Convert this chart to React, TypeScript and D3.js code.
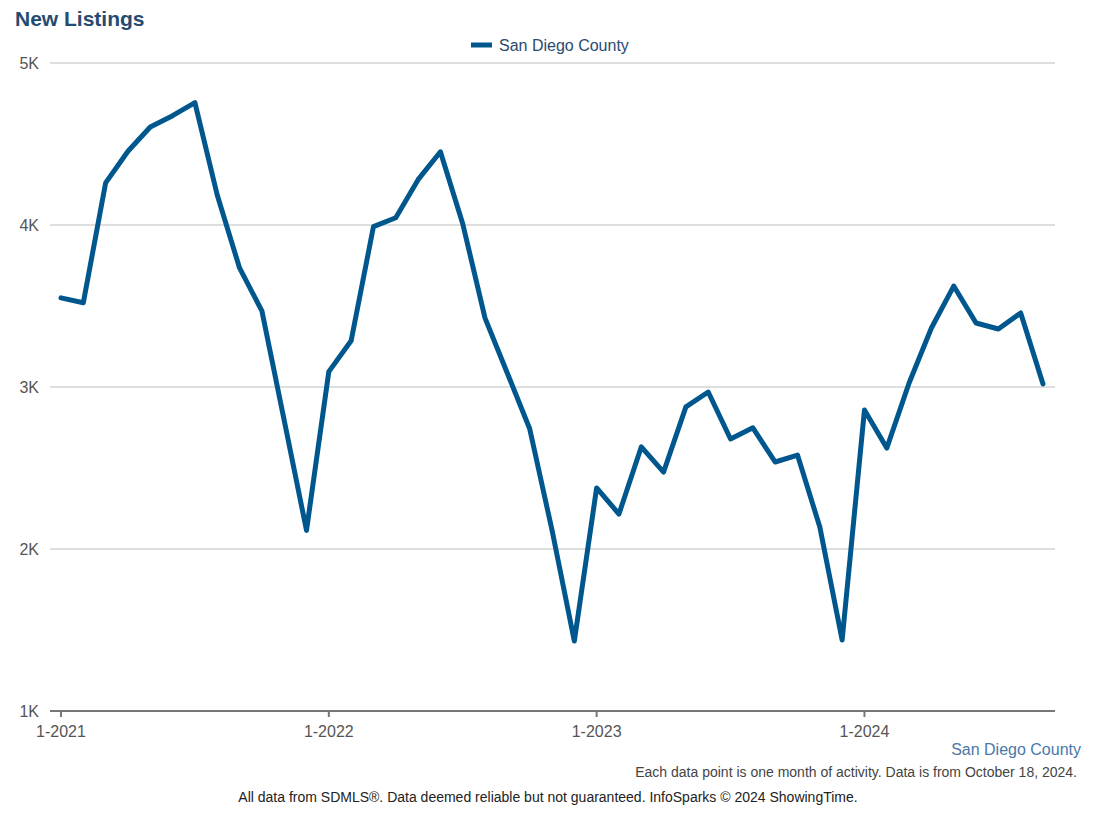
import React from "react";
import * as d3 from "d3";

const months: string[] = [];
for (let y = 2021; y <= 2024; y++) for (let m = 1; m <= 12; m++) months.push(`${m}-${y}`);
const periods = months.slice(0, 45);

const newListings = [
  3550, 3520, 4260, 4455, 4605, 4675, 4755, 4185, 3735, 3470, 2795, 2115,
  3095, 3285, 3990, 4045, 4280, 4452, 4008, 3425, 3085, 2742, 2117, 1432,
  2377, 2216, 2630, 2475, 2877, 2969, 2679, 2748, 2537, 2580, 2136, 1438,
  2858, 2623, 3025, 3364, 3623, 3395, 3358, 3457, 3019,
];

const yTicks = [1000, 2000, 3000, 4000, 5000];
const xTickLabels = ["1-2021", "1-2022", "1-2023", "1-2024"];

const W = 1098;
const H = 816;
const FONT = "'Liberation Sans', Arial, Helvetica, sans-serif";

export default function App() {
  const x = d3.scaleLinear().domain([0, 44]).range([61, 1043]);
  const y = d3.scaleLinear().domain([1000, 5000]).range([711, 63]);
  const line = d3
    .line<number>()
    .x((_, i) => x(i))
    .y((d) => y(d));
  const path = line(newListings) || "";
  const fmt = (v: number) => `${v / 1000}K`;

  return (
    <svg
      width={W}
      height={H}
      style={{ position: "absolute", left: 0, top: 0, fontFamily: FONT }}
    >
      <rect width={W} height={H} fill="#fff" />
      <text x={15} y={26} fontSize={21} fontWeight="bold" fill="#264a70">
        New Listings
      </text>
      {/* legend */}
      <line x1={471} x2={492} y1={45} y2={45} stroke="#00578e" strokeWidth={5} />
      <text x={499} y={51} fontSize={16} fill="#2b4a6e">
        San Diego County
      </text>
      {/* grid */}
      {yTicks.map((t) => (
        <g key={t}>
          {t > 1000 && (
            <line x1={50} x2={1055} y1={y(t)} y2={y(t)} stroke="#bdbdbd" strokeWidth={1.2} />
          )}
          <text x={39} y={y(t) + 5.5} fontSize={16} fill="#555" textAnchor="end">
            {fmt(t)}
          </text>
        </g>
      ))}
      {/* x axis */}
      <line x1={50} x2={1055} y1={y(1000)} y2={y(1000)} stroke="#777" strokeWidth={2} />
      {xTickLabels.map((lab) => {
        const i = periods.indexOf(lab);
        return (
          <g key={lab}>
            <line x1={x(i)} x2={x(i)} y1={711} y2={717} stroke="#777" strokeWidth={2} />
            <text x={x(i)} y={737} fontSize={16} fill="#555" textAnchor="middle">
              {lab}
            </text>
          </g>
        );
      })}
      <path
        d={path}
        fill="none"
        stroke="#00578e"
        strokeWidth={5}
        strokeLinejoin="round"
        strokeLinecap="round"
      />
      <text x={1081} y={755} fontSize={16} fill="#4a78a8" textAnchor="end">
        San Diego County
      </text>
      <text x={1077} y={777} fontSize={14} fill="#444" textAnchor="end">
        Each data point is one month of activity. Data is from October 18, 2024.
      </text>
      <text x={548} y={802} fontSize={14} fill="#222" textAnchor="middle">
        All data from SDMLS®. Data deemed reliable but not guaranteed. InfoSparks © 2024 ShowingTime.
      </text>
    </svg>
  );
}
